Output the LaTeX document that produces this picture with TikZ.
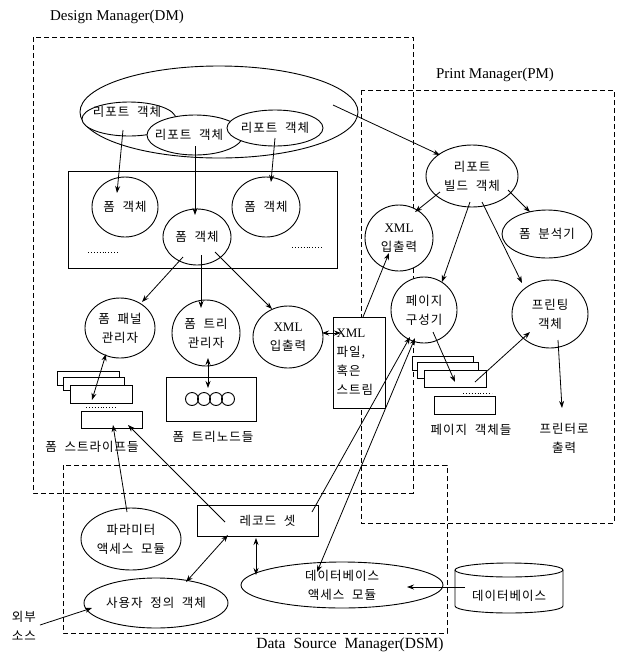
\documentclass[tikz,border=0pt]{standalone}
\usepackage{fontspec}
\setmainfont{Liberation Serif}
\newfontfamily\kr{Noto Sans CJK KR}[LetterSpace=8,WordSpace=2]
\usetikzlibrary{shapes.geometric,arrows.meta,calc}
\begin{document}
\begin{tikzpicture}[x=1pt,y=-1pt,
  every node/.style={font=\kr\fontsize{12.5}{19}\selectfont, inner sep=0pt, align=center},
  ell/.style={draw, ellipse, fill=white, line width=0.9pt, inner sep=0pt},
  rbox/.style={draw, rectangle, fill=white, line width=0.9pt},
  arr/.style={-{Stealth[length=7pt,width=5pt]}, line width=0.8pt},
  darr/.style={{Stealth[length=7pt,width=5pt]}-{Stealth[length=7pt,width=5pt]}, line width=0.8pt},
  mgr/.style={draw, dash pattern=on 5pt off 3pt, line width=0.9pt},
  lat/.style={font=\rmfamily\fontsize{15}{18}\selectfont},
  dots/.style={dotted, line width=0.9pt}
]
\useasboundingbox (0,0) rectangle (619,657);

% ---- manager regions
\draw[mgr] (33,37) rectangle (413,493);
\draw[mgr] (361,90) rectangle (614,523);
\draw[mgr] (63,465) rectangle (447,633);
\node[lat] (tdm) at (117,17) {Design Manager(DM)};
\node[lat] (tpm) at (495,75) {Print Manager(PM)};
\node[lat, font=\rmfamily\fontsize{15.5}{18}\selectfont] (tdsm) at (350,645) {Data\hspace{8pt}Source\hspace{8pt}Manager(DSM)};

% ---- report objects
\node[ell, fill=none, minimum width=278pt, minimum height=92pt] (grp) at (219,112) {};
\node[ell, minimum width=94pt, minimum height=34pt, label={[xshift=-2pt,yshift=7pt]center:리포트 객체}] (r1) at (129,119) {};
\node[ell, minimum width=96pt, minimum height=40pt, label={[xshift=-6pt]center:리포트 객체}] (r2) at (195,135) {};
\node[ell, minimum width=96pt, minimum height=36pt, label={center:리포트 객체}] (r3) at (275,128) {};

% ---- form objects
\node[rbox, minimum width=269pt, minimum height=97pt] (fbox) at (202.5,219.5) {};
\draw[dots] (88,252) -- (118,252);
\draw[dots] (292,247) -- (322,247);
\node[ell, minimum width=66pt, minimum height=60pt, label={center:폼 객체}] (f1) at (125,207) {};
\node[ell, minimum width=68pt, minimum height=56pt, label={center:폼 객체}] (f2) at (197,237) {};
\node[ell, minimum width=68pt, minimum height=60pt, label={center:폼 객체}] (f3) at (266,207) {};

\node[ell, minimum width=70pt, minimum height=60pt, label={center:폼 패널\\관리자}] (fpm) at (120,328) {};
\node[ell, minimum width=68pt, minimum height=66pt, label={center:폼 트리\\관리자}] (ftm) at (206,333) {};
\node[ell, minimum width=70pt, minimum height=62pt, label={center:{{\rmfamily\fontsize{13}{19}\selectfont XML}\\입출력}}] (xml1) at (288,337) {};

\node[rbox, minimum width=52pt, minimum height=91pt, text width=45pt, align=left, inner xsep=3.5pt] (xfile) at (359,362.5) {{\rmfamily\fontsize{13}{18}\selectfont XML}\\파일,\\혹은\\스트림};

% form stripes
\node[rbox, minimum width=62pt, minimum height=14pt] (s1) at (88,378) {};
\node[rbox, minimum width=61pt, minimum height=13pt] (s2) at (93.5,383.5) {};
\node[rbox, minimum width=62pt, minimum height=18pt] (s3) at (101,394) {};
\draw[dots] (86,407) -- (117,407);
\node[rbox, minimum width=61pt, minimum height=17pt] (s4) at (111.5,419.5) {};
\node (ts) at (92,447) {폼 스트라이프들};

% tree nodes
\node[rbox, minimum width=90pt, minimum height=44pt] (tbox) at (211,399) {};
\foreach \cx in {192,204,216,228} \draw[line width=0.9pt] (\cx,399) circle (6.5pt);
\node (tt) at (213,437) {폼 트리노드들};

% ---- print manager
\node[ell, minimum width=92pt, minimum height=62pt, label={center:리포트\\빌드 객체}] (rb) at (472,176) {};
\node[ell, minimum width=68pt, minimum height=66pt, label={center:{{\rmfamily\fontsize{13}{19}\selectfont XML}\\입출력}}] (xml2) at (399,238) {};
\node[ell, minimum width=90pt, minimum height=48pt, label={center:폼 분석기}] (fa) at (547,234) {};
\node[ell, minimum width=66pt, minimum height=66pt, label={center:페이지\\구성기}] (pc) at (424,310) {};
\node[ell, minimum width=76pt, minimum height=68pt, label={center:프린팅\\객체}] (pr) at (550,314) {};

\node[rbox, minimum width=61pt, minimum height=14pt] (p1) at (442.5,363) {};
\node[rbox, minimum width=61pt, minimum height=16pt] (p2) at (447.5,370) {};
\node[rbox, minimum width=62pt, minimum height=17pt] (p3) at (455,378.5) {};
\draw[dots] (463,393) -- (492,393);
\node[rbox, minimum width=61pt, minimum height=18pt] (p4) at (464.5,405) {};
\node (tp) at (471,430) {페이지 객체들};
\node (out) at (564,438) {프린터로\\출력};

% ---- data source manager
\node[ell, minimum width=100pt, minimum height=62pt, label={center:파라미터\\액세스 모듈}] (param) at (131,539) {};
\node[ell, minimum width=144pt, minimum height=50pt, label={center:사용자 정의 객체}] (user) at (156,603) {};
\node[rbox, minimum width=121pt, minimum height=31pt, label={[xshift=10pt]center:레코드 셋}] (rs) at (257.5,520.5) {};
\node[ell, minimum width=202pt, minimum height=46pt, label={center:데이터베이스\\액세스 모듈}] (dba) at (342,585) {};
\draw[line width=0.9pt] (509,570) ellipse [x radius=54pt, y radius=7pt];
\draw[line width=0.9pt] (455,570) -- (455,606) arc[start angle=180, end angle=360, x radius=54pt, y radius=7pt] -- (563,570);
\node (db) at (509,596) {데이터베이스};
\node (ext) at (24,626) {외부\\소스};

% ---- connectors
\draw[arr] ($(r1)+(-6,11)$) -- ($(f1)+(-8,-14)$);
\draw[arr] ($(r2)+(0,11)$) -- ($(f2)+(-2,-22)$);
\draw[arr] ($(r3)+(0,10)$) -- ($(f3)+(5,-25)$);
\draw[arr] ($(grp)+(114,-7)$) -- ($(rb)+(-32,-21)$);
\draw[arr] ($(f2)+(-14,20)$) -- ($(fpm)+(22,-26)$);
\draw[arr] ($(f2)+(4,18)$) -- ($(ftm)+(-5,-25)$);
\draw[arr] ($(f2)+(18,15)$) -- ($(xml1)+(-16,-28)$);
\draw[darr] ($(fpm)+(-14,26)$) -- ($(s3)+(-9,6)$);
\draw[darr] ($(ftm)+(2,25)$) -- ($(tbox)+(-3,-11)$);
\draw[darr] ($(xml1)+(34,-4)$) -- ($(xfile)+(-18,-29.5)$);
\draw[arr] ($(xfile)+(4,-45.5)$) -- ($(xml2)+(-10,15)$);
\draw[arr] ($(rb)+(-32,16)$) -- ($(xml2)+(16,-26)$);
\draw[arr] ($(rb)+(-2,26)$) -- ($(pc)+(18,-28)$);
\draw[arr] ($(rb)+(10,26)$) -- ($(pr)+(-28,-31)$);
\draw[arr] ($(rb)+(36,14)$) -- ($(fa)+(-17,-22)$);
\draw[arr] ($(pc)+(9,22)$) -- ($(p3)+(0,3.5)$);
\draw[arr] ($(p3)+(20,3.5)$) -- ($(pr)+(-20,18)$);
\draw[arr] ($(pr)+(8,26)$) -- ($(out)+(-2,-30)$);
\draw[arr] ($(param)+(-4,-27)$) -- ($(s4)+(1.5,5.5)$);
\draw[arr] ($(rs)+(-32.5,1.5)$) -- ($(s4)+(16.5,5.5)$);
\draw[arr] ($(rs)+(54.5,-8.5)$) -- ($(pc)+(-14,27)$);
\draw[darr] ($(dba)+(-25,-13)$) -- ($(pc)+(-9,28)$);
\draw[darr] ($(rs)+(-29.5,14.5)$) -- ($(user)+(30,-21)$);
\draw[darr] ($(rs)+(-1.5,17.5)$) -- ($(dba)+(-86,-10)$);
\draw[arr] ($(db)+(-44,-9)$) -- ($(dba)+(65,2)$);
\draw[arr] ($(ext)+(16,-1)$) -- ($(user)+(-64,5)$);
\end{tikzpicture}
\end{document}
